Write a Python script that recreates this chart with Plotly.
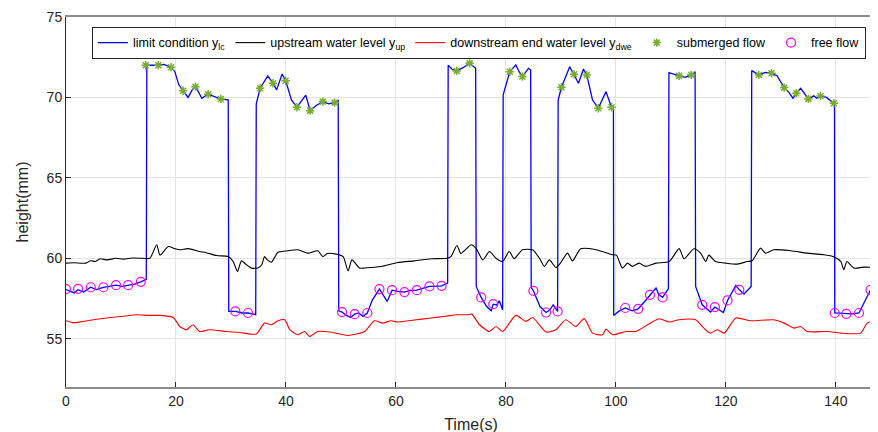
import plotly.graph_objects as go

# limit condition (blue)
lc_t = [0, 1.5, 2.2, 3.2, 4.5, 5.5, 6.8, 8, 9.1, 10.2, 11.3, 12.5, 13.6, 14.6,
        14.7, 16.8, 17.8, 19.1, 19.8, 20.5, 21.3, 22.2, 23.0, 23.55, 24.0, 24.7, 25.85, 27, 28.15, 29.5,
        29.6, 30.8, 32, 33.1, 34.5,
        34.6, 35.3, 36.7, 37.65, 38.3, 39.3, 39.95, 41.0, 42.0, 43.0, 43.6, 44.4, 45.5, 46.7, 47.8, 48.85, 49.5,
        49.6, 50.2, 51.0, 51.75, 52.5, 53.2, 54.0, 54.8, 55.7, 57.0, 58.4, 59.3, 60.3, 61.55, 62.5, 63.8, 65, 66.1, 67.2, 68.3, 69.4,
        69.5, 70.2, 71.05, 72.2, 73.4, 74.0, 74.5,
        74.6, 75.5, 76.5, 77.3, 77.7, 78.3, 78.8, 79.4,
        79.5, 80.7, 81.8, 82.4, 83.0, 84.1, 84.5,
        84.6, 85.0, 86.2, 87.3, 88.0, 88.6, 89.4,
        89.5, 90.1, 91.6, 92.4, 93.2, 94.1, 94.7, 95.75, 96.8, 98.2, 99.2, 99.55,
        99.6, 100.5, 101.7, 103.0, 104.05, 105.2, 106.2, 107.3, 107.8, 108.5, 109.55,
        109.65, 110.5, 111.5, 112.6, 113.7, 114.4,
        114.5, 115.7, 117.2, 118.0, 119.55, 120.3, 121.8, 122.45, 123.3, 124.6,
        124.7, 126.0, 127.2, 128.3, 129.3, 130.6, 131.5, 132.2, 132.8, 133.6, 135.0, 136.0, 136.5, 137.2, 138.3, 139.65, 139.75,
        139.8, 141.9, 143.0, 144.2, 145.3, 146.3, 147.3]
lc_y = [58.05, 57.85, 58.05, 57.9, 58.2, 58.05, 58.2, 58.25, 58.33, 58.25, 58.33, 58.4, 58.54, 58.7,
        72.0, 72.0, 72.05, 71.88, 71.6, 70.8, 70.42, 70.0, 70.5, 70.67, 70.4, 69.95, 70.2, 70.05, 69.9, 69.85,
        56.7, 56.7, 56.6, 56.6, 56.5,
        69.6, 70.57, 71.34, 70.88, 70.47, 71.46, 71.04, 69.84, 69.39, 69.9, 70.14, 69.18, 69.5, 69.74, 69.6, 69.68, 69.84,
        56.74, 56.66, 56.45, 56.32, 56.53, 56.6, 56.39, 56.6, 57.4, 58.09, 57.32, 58.02, 57.95, 57.9, 58.0, 58.02, 58.15, 58.25, 58.25, 58.29, 58.46,
        72.0, 71.75, 71.65, 71.85, 72.12, 71.95, 71.81,
        58.25, 57.57, 57.0, 56.74, 57.15, 57.1, 57.36, 56.8,
        70.16, 71.6, 72.02, 71.6, 71.3, 71.81, 71.7,
        58.2, 57.98, 57.0, 56.63, 56.8, 57.11, 56.7,
        69.84, 70.63, 71.91, 71.44, 70.88, 71.77, 71.4, 69.84, 69.33, 70.36, 69.39, 69.22,
        56.45, 56.7, 56.91, 56.74, 56.86, 57.3, 57.73, 58.15, 57.75, 57.57, 58.11,
        71.54, 71.45, 71.34, 71.25, 71.4, 71.6,
        58.25, 57.11, 56.66, 56.97, 56.63, 57.38, 58.31, 58.04, 57.78, 58.25,
        71.67, 71.4, 71.55, 71.5, 71.35, 70.61, 70.3, 69.95, 70.26, 70.57, 69.91, 70.1, 69.95, 70.09, 70.0, 69.64, 69.6,
        56.6, 56.55, 56.55, 56.6, 57.4, 58.04, 58.1]

# upstream water level (black)
up_t = [0, 1.5, 3.6, 4.5, 5.3, 6.2, 7.5, 9, 10.5, 12, 14, 15.25, 16.5, 17.1, 18.6, 19.8, 20.7, 22.2, 24.3, 25.5,
        27.4, 29.5, 30.4, 31.2, 31.9, 32.8, 33.7, 34.9, 35.6, 36.1, 36.6, 37.35, 38.55, 40, 42.2, 44.0, 45.8,
        46.7, 47.5, 49.15, 50.4, 51.3, 52.0, 53.4, 54.3, 57.3, 60.35, 63.4, 66.4, 69.4, 70.0, 71.1, 71.8, 73.7,
        74.6, 75.8, 77.0, 78.2, 79.4, 80.6, 81.5, 83.0, 84.85, 86.1, 87.0, 87.9, 89.1, 89.9, 91.2, 92.1, 93.6,
        96.4, 99.4, 100.1, 101.2, 102.1, 103.0, 104.2, 105.4, 107.3, 109.7, 111.5, 112.4, 114.2, 115.4, 116.35,
        116.9, 118.1, 120, 122.1, 123.9, 124.8, 126.3, 127.2, 128.7, 131.8, 134.8, 137.8, 139.6, 140.9, 141.45,
        142.0, 143.3, 145, 147.4]
up_y = [59.7, 59.72, 59.7, 59.85, 59.8, 59.97, 59.9, 60.0, 59.95, 60.02, 60.0, 60.0, 60.84, 60.2, 60.73, 60.6, 60.53, 60.6, 60.42, 60.35,
        60.17, 60.11, 59.8, 59.18, 59.84, 59.6, 59.39, 59.4, 59.6, 60.11, 59.9, 59.76, 60.38, 60.45, 60.53, 60.32, 60.47,
        60.1, 60.3, 60.26, 60.1, 59.22, 59.9, 59.39, 59.4, 59.49, 59.74, 59.84, 59.97, 60.0, 60.1, 60.8, 60.3, 60.84,
        60.6, 59.9, 60.42, 60.0, 59.8, 60.42, 59.97, 60.53, 60.53, 60.0, 59.49, 59.9, 59.43, 59.7, 60.32, 59.84, 60.59,
        60.53, 60.22, 60.2, 59.39, 59.7, 59.5, 59.7, 59.5, 59.7, 59.8, 60.6, 59.97, 60.59, 60.32, 59.8,
        60.2, 59.8, 59.7, 59.64, 59.8, 59.85, 60.63, 60.32, 60.53, 60.47, 60.32, 60.22, 60.1, 59.8, 59.29,
        59.8, 59.39, 59.45, 59.43]

# downstream end water level (red)
dw_t = [0, 1.2, 2.5, 5.0, 8.0, 10.5, 12.8, 15, 17.1, 19.5, 20.7, 21.9, 23.1, 24.3, 26.1, 29.2, 31.6, 34.6, 36.1,
        37.35, 38.55, 39.8, 40.7, 42.2, 43.4, 44.3, 45.8, 48.25, 51.3, 54.3, 56.1, 57.6, 59.1, 60.3, 63, 66.4,
        69, 71.25, 73.05, 73.8, 75.2, 77.0, 78.2, 79.4, 81.8, 83.65, 84.85, 87.3, 89.1, 90.9, 92.7, 94.25, 95.75,
        97.6, 98.2, 99.4, 101.8, 103.6, 106.0, 107.9, 109.7, 111.5, 114.5, 116.0, 117.2, 118.45, 119.7, 121.8,
        124.5, 128.7, 130.6, 132.4, 133.6, 134.8, 138.4, 140.9, 144.5, 145.7, 147.4]
dw_y = [56.12, 56.0, 56.04, 56.18, 56.32, 56.4, 56.49, 56.45, 56.45, 56.32, 55.76, 55.56, 55.87, 55.45, 55.56, 55.45, 55.39, 55.29, 55.97,
        55.87, 56.12, 56.18, 55.56, 55.25, 55.45, 55.14, 55.45, 55.4, 55.2, 55.45, 56.12, 55.97, 56.12, 56.04, 56.15, 56.29,
        56.4, 56.49, 56.49, 56.53, 55.87, 55.45, 55.76, 55.45, 56.45, 56.08, 56.32, 55.42, 55.56, 56.18, 55.76, 56.25, 55.35,
        55.25, 55.6, 55.25, 55.45, 55.45, 55.91, 56.24, 56.04, 56.18, 56.18, 55.66, 55.35, 55.56, 55.35, 56.29,
        56.12, 56.18, 55.97, 55.66, 55.76, 55.45, 55.45, 55.35, 55.35, 55.97, 56.18]

# submerged flow markers
sub_t = [14.5, 16.8, 19.1, 21.3, 23.55, 25.85, 28.15, 35.3, 37.65, 39.95, 42.0, 44.4, 46.7, 48.85, 71.05, 73.4,
         80.7, 83.0, 90.1, 92.4, 94.7, 96.8, 99.2, 111.5, 113.7, 126.0, 128.3, 130.6, 132.8, 135.0, 137.2, 139.65]
sub_y = [72.0, 72.0, 71.88, 70.42, 70.67, 70.2, 69.9, 70.57, 70.88, 71.04, 69.39, 69.18, 69.74, 69.68, 71.65, 72.12,
         71.6, 71.3, 70.63, 71.44, 71.4, 69.33, 69.39, 71.34, 71.4, 71.4, 71.5, 70.61, 70.26, 69.91, 70.09, 69.64]

# free flow markers
free_t = [0, 2.2, 4.5, 6.8, 9.1, 11.3, 13.6, 30.8, 33.1, 50.2, 52.5, 54.8, 57.0, 59.3, 61.55, 63.8, 66.1, 68.3,
          75.5, 77.7, 85.0, 87.3, 89.4, 101.7, 104.05, 106.2, 108.5, 115.7, 118.0, 120.3, 122.45, 139.8, 141.9, 144.2, 146.3]
free_y = [58.09, 58.1, 58.2, 58.2, 58.33, 58.33, 58.54, 56.7, 56.6, 56.66, 56.53, 56.6, 58.09, 58.02, 57.9, 58.02, 58.25, 58.29,
          57.57, 57.15, 57.98, 56.63, 56.7, 56.91, 56.86, 57.73, 57.57, 57.11, 56.97, 57.38, 58.04, 56.6, 56.55, 56.6, 58.04]

x_ticks = [0, 20, 40, 60, 80, 100, 120, 140]
y_ticks = [55, 60, 65, 70, 75]

FONT = "Liberation Sans, Arial, sans-serif"

fig = go.Figure()
fig.add_trace(go.Scatter(x=lc_t, y=lc_y, mode="lines", line=dict(color="#0000ff", width=1.3),
                         name="limit condition y<sub>lc</sub>"))
fig.add_trace(go.Scatter(x=up_t, y=up_y, mode="lines", line=dict(color="#000000", width=1.1, shape="spline", smoothing=0.6),
                         name="upstream water level y<sub>up</sub>"))
fig.add_trace(go.Scatter(x=dw_t, y=dw_y, mode="lines", line=dict(color="#ff0000", width=1.1, shape="spline", smoothing=0.6),
                         name="downstream end water level y<sub>dwe</sub>"))
fig.add_trace(go.Scatter(x=sub_t, y=sub_y, mode="markers",
                         marker=dict(symbol="asterisk-open", size=7, color="#77ac30", line=dict(color="#77ac30", width=1.5)),
                         name="submerged flow"))
fig.add_trace(go.Scatter(x=free_t, y=free_y, mode="markers",
                         marker=dict(symbol="circle-open", size=9, color="#ff00ff", line=dict(color="#ff00ff", width=1.2)),
                         name="free flow"))

fig.update_layout(
    width=878, height=432,
    margin=dict(l=58, r=10, t=9, b=53, autoexpand=False),
    paper_bgcolor="white", plot_bgcolor="white",
    font=dict(family=FONT, size=14, color="#262626"),
    showlegend=True,
    legend=dict(orientation="h", x=0.032, y=0.973, xanchor="left", yanchor="top",
                bgcolor="white", bordercolor="#262626", borderwidth=1,
                font=dict(family=FONT, size=12.5, color="#000000"),
                itemwidth=30, tracegroupgap=0),
)
fig.update_xaxes(range=[0, 147.3], tickvals=x_ticks, ticktext=[str(v) for v in x_ticks],
                 automargin=False,
                 showgrid=True, gridcolor="#e3e3e3", gridwidth=1, zeroline=False,
                 showline=True, linecolor="#8c8c8c", linewidth=2, mirror=True,
                 ticks="inside", ticklen=5, tickcolor="#262626",
                 title=dict(text="Time(s)", font=dict(size=16), standoff=11),
                 tickfont=dict(size=14))
fig.update_yaxes(range=[52, 75], tickvals=y_ticks, ticktext=[str(v) for v in y_ticks],
                 automargin=False,
                 showgrid=True, gridcolor="#e3e3e3", gridwidth=1, zeroline=False,
                 showline=True, linecolor="#262626", linewidth=1,
                 ticks="inside", ticklen=5, tickcolor="#262626",
                 title=dict(text="height(mm)", font=dict(size=16), standoff=14),
                 tickfont=dict(size=14))
fig.write_html("out.html")
